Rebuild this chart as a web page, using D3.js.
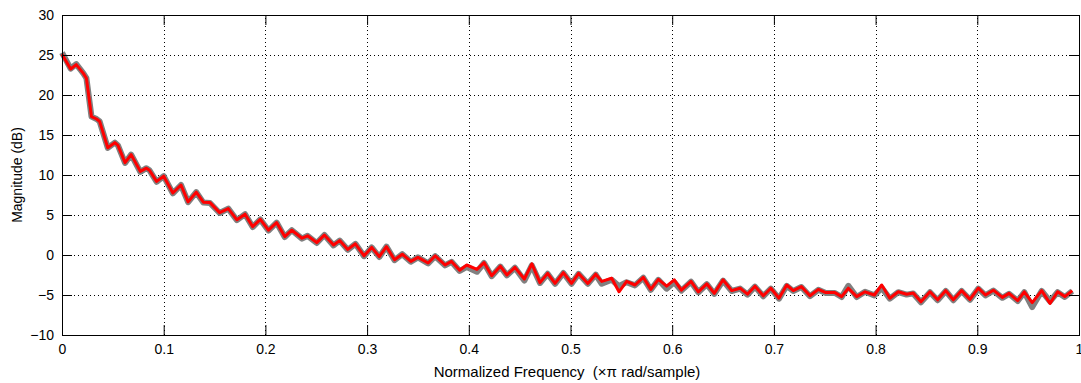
<!DOCTYPE html>
<html>
<head>
<meta charset="utf-8">
<script src="https://cdn.jsdelivr.net/npm/d3@7"></script>
<style>
  html, body { margin: 0; padding: 0; background: #ffffff; }
  svg { display: block; }
  text { font-family: "Liberation Sans", Arial, sans-serif; fill: #000; }
</style>
</head>
<body>
<svg id="chart" width="1081" height="383"></svg>
<script>
// Normalized frequency grid (×π rad/sample) for both magnitude responses
const freq = [
  0.000, 0.0085, 0.014, 0.021, 0.024, 0.029, 0.034, 0.037, 0.045, 0.052,
  0.055, 0.062, 0.068, 0.077, 0.083, 0.086, 0.093, 0.100, 0.109, 0.117,
  0.124, 0.132, 0.139, 0.1455, 0.155, 0.1635, 0.172, 0.180, 0.1875, 0.195,
  0.203, 0.211, 0.219, 0.226, 0.236, 0.2415, 0.2505, 0.258, 0.267, 0.273,
  0.281, 0.2885, 0.297, 0.3045, 0.312, 0.319, 0.327, 0.3346, 0.343, 0.350,
  0.360, 0.367, 0.3766, 0.383, 0.391, 0.398, 0.408, 0.415, 0.4225, 0.431,
  0.4375, 0.4454, 0.4546, 0.462, 0.470, 0.4775, 0.4848, 0.493, 0.501, 0.508,
  0.517, 0.5248, 0.5307, 0.5405, 0.5477, 0.5552, 0.5634, 0.5716, 0.579, 0.5864,
  0.5945, 0.602, 0.609, 0.6185, 0.6257, 0.634, 0.6414, 0.650, 0.6585, 0.6667,
  0.674, 0.6814, 0.6896, 0.697, 0.705, 0.7126, 0.719, 0.727, 0.7355, 0.7437,
  0.751, 0.760, 0.7666, 0.7732, 0.7814, 0.7896, 0.7988, 0.806, 0.814, 0.8223,
  0.8305, 0.837, 0.8446, 0.8535, 0.861, 0.869, 0.8764, 0.8846, 0.8928, 0.901,
  0.908, 0.9158, 0.9246, 0.9312, 0.9397, 0.9462, 0.954, 0.9633, 0.9715, 0.979,
  0.986, 0.9934
];

// Magnitude (dB), gray reference response
const magGray = [
  25.3, 23.3, 23.85, 22.7, 22.1, 17.3, 17.0, 16.7, 13.4, 14.05,
  13.7, 11.5, 12.55, 10.4, 10.85, 10.6, 9.15, 9.85, 7.7, 8.75,
  6.6, 7.85, 6.55, 6.5, 5.25, 5.8, 4.35, 5.1, 3.5, 4.45,
  3.05, 4.05, 2.25, 3.1, 2.05, 2.4, 1.5, 2.5, 1.2, 1.8,
  0.65, 1.4, -0.15, 0.95, -0.25, 1.05, -0.65, 0.1, -0.85, -0.3,
  -1.05, -0.15, -1.3, -0.85, -2.0, -1.5, -2.1, -1.0, -2.65, -1.45,
  -2.55, -1.6, -3.2, -1.3, -3.5, -2.35, -3.6, -2.25, -3.6, -2.35,
  -3.6, -2.45, -3.6, -3.1, -3.9, -3.4, -3.8, -2.85, -4.35, -3.1,
  -4.2, -3.4, -4.45, -3.35, -4.65, -3.65, -4.85, -3.2, -4.5, -4.2,
  -4.95, -3.95, -5.15, -4.2, -5.45, -3.85, -4.5, -4.0, -5.15, -4.35,
  -4.75, -4.75, -5.25, -3.85, -5.25, -4.6, -5.05, -4.1, -5.45, -4.65,
  -4.95, -4.8, -5.9, -4.65, -5.65, -4.5, -5.65, -4.5, -5.6, -4.2,
  -5.05, -4.45, -5.35, -4.85, -5.75, -4.65, -6.5, -4.5, -5.8, -4.65,
  -5.25, -4.5
];

// Magnitude (dB), red estimated response
const magRed = [
  25.1, 23.25, 23.8, 22.7, 22.1, 17.3, 17.0, 16.7, 13.4, 14.05,
  13.7, 11.55, 12.55, 10.45, 10.85, 10.6, 9.2, 9.85, 7.75, 8.75,
  6.65, 7.85, 6.6, 6.55, 5.3, 5.8, 4.4, 5.1, 3.55, 4.45,
  3.1, 4.05, 2.3, 3.1, 2.1, 2.4, 1.55, 2.5, 1.25, 1.8,
  0.7, 1.4, -0.1, 0.95, -0.2, 1.05, -0.6, 0.1, -0.8, -0.3,
  -1.0, -0.1, -1.25, -0.8, -1.9, -1.25, -1.8, -0.95, -2.6, -1.4,
  -2.5, -1.55, -3.0, -1.1, -3.45, -2.3, -3.55, -2.2, -3.55, -2.3,
  -3.55, -2.4, -3.3, -2.9, -4.6, -3.3, -3.75, -2.8, -4.3, -3.05,
  -3.9, -3.1, -4.4, -3.3, -4.6, -3.6, -4.8, -3.1, -4.45, -4.15,
  -4.9, -3.9, -5.1, -4.15, -5.4, -3.75, -4.45, -3.95, -5.1, -4.3,
  -4.7, -4.7, -5.2, -4.15, -5.2, -4.6, -5.0, -3.75, -5.4, -4.6,
  -4.9, -4.75, -5.85, -4.6, -5.6, -4.45, -5.6, -4.45, -5.55, -4.15,
  -5.0, -4.4, -5.3, -4.8, -5.7, -4.6, -5.95, -4.45, -6.05, -4.6,
  -5.2, -4.45
];

const xTicks = [0, 0.1, 0.2, 0.3, 0.4, 0.5, 0.6, 0.7, 0.8, 0.9, 1];
const yTicks = [-10, -5, 0, 5, 10, 15, 20, 25, 30];

const svg = d3.select("#chart");
const plotLeft = 62, plotRight = 1079, plotTop = 15, plotBottom = 335;

const x = d3.scaleLinear().domain([0, 1]).range([plotLeft, plotRight]);
const y = d3.scaleLinear().domain([-10, 30]).range([plotBottom, plotTop]);

// Dotted grid
const grid = svg.append("g")
  .attr("stroke", "#000")
  .attr("stroke-width", 1)
  .attr("stroke-dasharray", "1,3")
  .attr("shape-rendering", "crispEdges");
grid.selectAll("line.gx")
  .data(xTicks.filter(d => d > 0 && d < 1))
  .join("line")
  .attr("x1", d => Math.round(x(d)) + 0.5).attr("x2", d => Math.round(x(d)) + 0.5)
  .attr("y1", plotBottom).attr("y2", plotTop);
grid.selectAll("line.gy")
  .data(yTicks.filter(d => d > -10 && d < 30))
  .join("line")
  .attr("y1", d => Math.round(y(d)) + 0.5).attr("y2", d => Math.round(y(d)) + 0.5)
  .attr("x1", plotLeft).attr("x2", plotRight);

// Response curves
const line = d3.line()
  .x((d, i) => x(freq[i]))
  .y(d => y(d));

svg.append("path")
  .datum(magGray)
  .attr("d", line)
  .attr("fill", "none")
  .attr("stroke", "#808080")
  .attr("stroke-width", 6)
  .attr("stroke-linejoin", "round");

svg.append("path")
  .datum(magRed)
  .attr("d", line)
  .attr("fill", "none")
  .attr("stroke", "#ff0000")
  .attr("stroke-width", 3)
  .attr("stroke-linejoin", "round");

// Axes on all four sides, ticks pointing inward
const tickLen = 10;
const axisStyle = g => {
  g.select(".domain").remove();
  g.selectAll(".tick line").attr("stroke", "#000");
  g.selectAll("text").attr("font-size", 14).attr("font-family", "Liberation Sans, Arial, sans-serif");
};

svg.append("g")
  .attr("transform", `translate(0,${plotBottom})`)
  .call(d3.axisBottom(x).tickValues(xTicks).tickFormat(d3.format("")).tickSizeInner(-tickLen).tickPadding(9))
  .call(axisStyle);

svg.append("g")
  .attr("transform", `translate(0,${plotTop})`)
  .call(d3.axisTop(x).tickValues(xTicks).tickFormat("").tickSizeInner(-tickLen))
  .call(axisStyle);

svg.append("g")
  .attr("transform", `translate(${plotLeft},0)`)
  .call(d3.axisLeft(y).tickValues(yTicks).tickFormat(d3.format("d")).tickSizeInner(-tickLen).tickPadding(8))
  .call(axisStyle);

svg.append("g")
  .attr("transform", `translate(${plotRight},0)`)
  .call(d3.axisRight(y).tickValues(yTicks).tickFormat("").tickSizeInner(-tickLen))
  .call(axisStyle);

// Box
svg.append("rect")
  .attr("x", plotLeft + 0.5).attr("y", plotTop + 0.5)
  .attr("width", plotRight - plotLeft).attr("height", plotBottom - plotTop)
  .attr("fill", "none")
  .attr("stroke", "#000")
  .attr("stroke-width", 1);

// Axis titles
svg.append("text")
  .attr("x", 567)
  .attr("y", 377)
  .attr("text-anchor", "middle")
  .attr("font-size", 15)
  .style("white-space", "pre")
  .text("Normalized Frequency  (\u00d7\u03c0 rad/sample)");

svg.append("text")
  .attr("transform", `translate(22,${(plotTop + plotBottom) / 2}) rotate(-90)`)
  .attr("text-anchor", "middle")
  .attr("font-size", 14)
  .text("Magnitude (dB)");
</script>
</body>
</html>
